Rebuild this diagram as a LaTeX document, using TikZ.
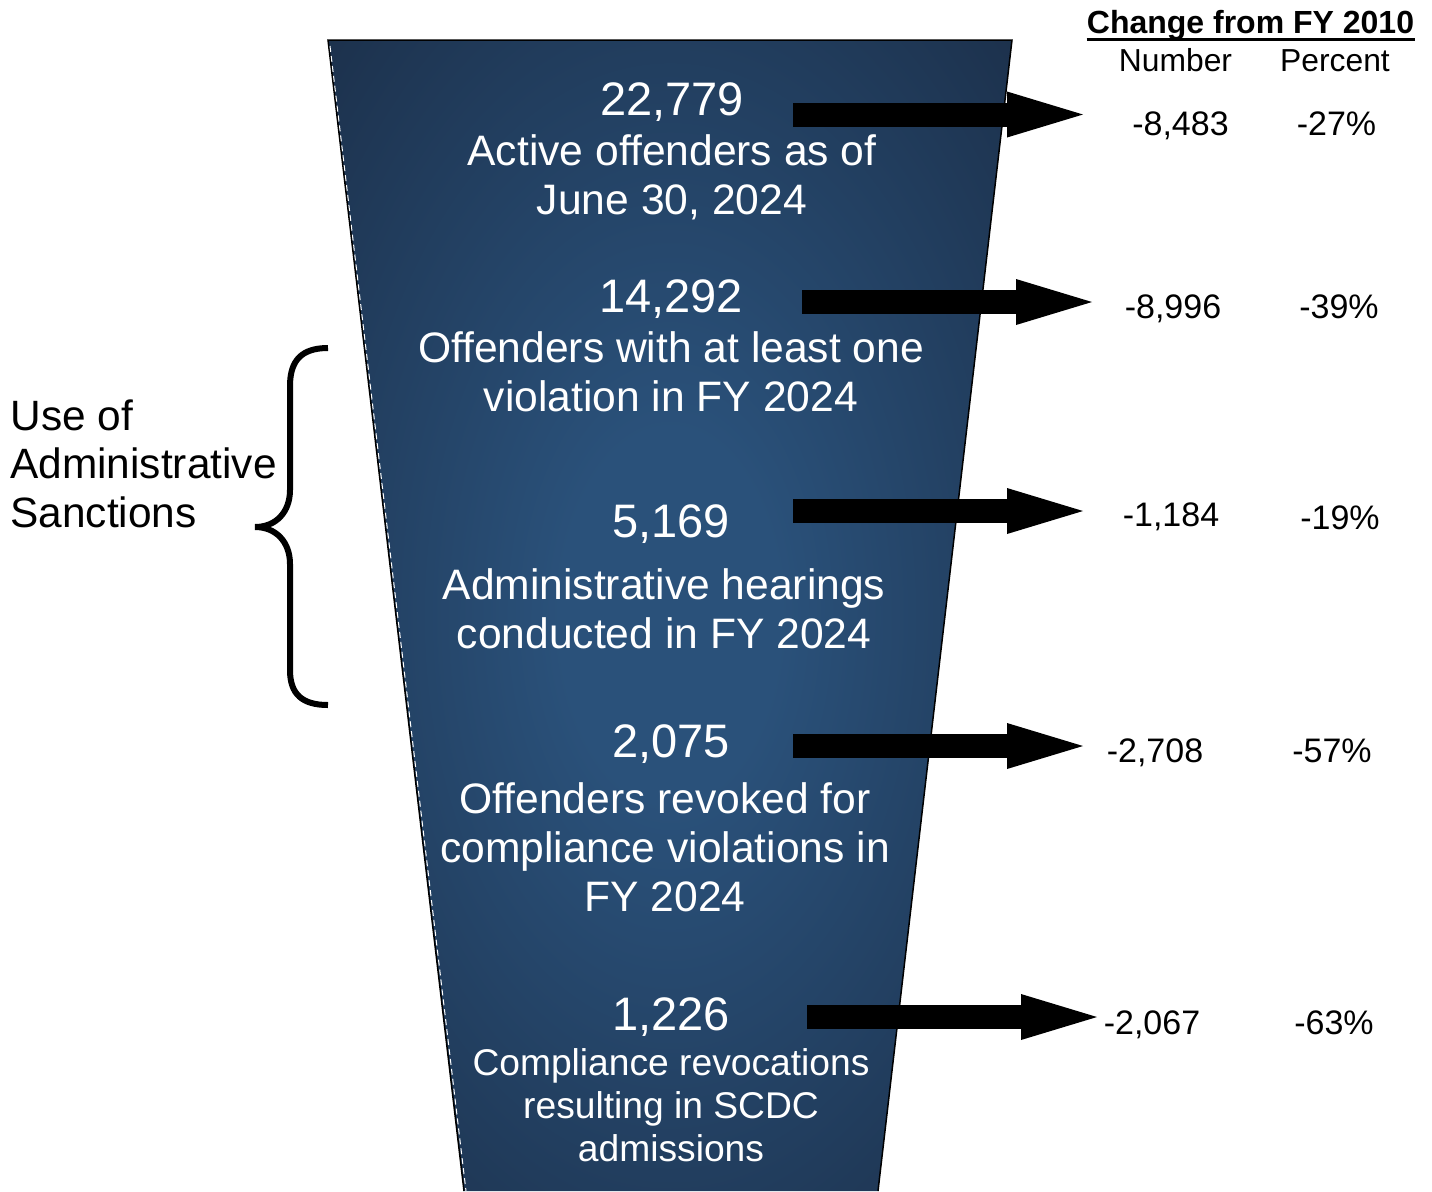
\documentclass[tikz,border=0pt]{standalone}
\usepackage{fontspec}
\setmainfont{Liberation Sans}
\usetikzlibrary{arrows.meta}
\definecolor{funneldark}{HTML}{1A2C45}
\definecolor{funnelglow}{HTML}{2A517A}
\pgfdeclareradialshading{funnelshade}{\pgfpoint{0bp}{0bp}}{color(0bp)=(funnelglow); color(8bp)=(funnelglow); color(40bp)=(funneldark); color(80bp)=(funneldark)}

\begin{document}
\begin{tikzpicture}[x=0.5pt, y=-0.5pt,
  count/.style={anchor=base, inner sep=0pt, text=white, font=\fontsize{23.5}{27}\selectfont},
  stage/.style={anchor=base, inner sep=0pt, text=white, align=center, font=\fontsize{21.3}{24.5}\selectfont},
  change/.style={anchor=base, inner sep=0pt, font=\fontsize{17}{20}\selectfont},
  bigarrow/.style={line width=12pt, -{Triangle[length=38pt, width=23pt, line width=0pt]}}]
  \useasboundingbox (0,0) rectangle (1432,1191);
  % funnel
  \shade[shading=funnelshade] (328,40) -- (1012,40) -- (878,1191) -- (464,1191) -- cycle;
  \draw[line width=0.75pt] (464,1191) -- (328,40) -- (1012,40) -- (878,1191);
  \draw[white, line width=0.5pt, dash pattern=on 3pt off 2pt] (330,46) -- (466,1191);
  % stages (base = last line)
  \node[count] (n1) at (672,115) {22,779};
  \node[stage] (s1) at (672,214) {Active offenders as of\\June 30, 2024};
  \node[count] (n2) at (671,312) {14,292};
  \node[stage] (s2) at (671,411) {Offenders with at least one\\violation in FY 2024};
  \node[count] (n3) at (671,537) {5,169};
  \node[stage] (s3) at (664,648) {Administrative hearings\\conducted in FY 2024};
  \node[count] (n4) at (671,757) {2,075};
  \node[stage] (s4) at (665,911) {Offenders revoked for\\compliance violations in\\FY 2024};
  \node[count] (n5) at (671,1030) {1,226};
  \node[stage, font=\fontsize{18.6}{21.3}\selectfont] (s5) at (671,1161) {Compliance revocations\\resulting in SCDC\\admissions};
  % change from FY 2010
  \node[anchor=base, inner sep=0pt, font=\fontsize{16}{19}\selectfont\bfseries] (head) at (1250.5,33) {Change from FY 2010};
  \draw[line width=1.5pt] ([yshift=-3.2pt]head.base west) -- ([yshift=-3.2pt]head.base east);
  \node[change, font=\fontsize{15.9}{19}\selectfont] (numhead) at (1175.5,71) {Number};
  \node[change, font=\fontsize{15.9}{19}\selectfont] (pcthead) at (1335,71) {Percent};
  \node[change] (d1) at (1180.5,135) {-8,483};
  \node[change] (p1) at (1336.5,135) {-27\%};
  \node[change] (d2) at (1173,318) {-8,996};
  \node[change] (p2) at (1339,318) {-39\%};
  \node[change] (d3) at (1171,526) {-1,184};
  \node[change] (p3) at (1340,529) {-19\%};
  \node[change] (d4) at (1155,762) {-2,708};
  \node[change] (p4) at (1332,762) {-57\%};
  \node[change] (d5) at (1152,1034) {-2,067};
  \node[change] (p5) at (1334,1034) {-63\%};
  % arrows
  \coordinate (a1) at (793,114.5);  \coordinate (b1) at (1083,114.5);
  \coordinate (a2) at (802,302);    \coordinate (b2) at (1092,302);
  \coordinate (a3) at (793,511);    \coordinate (b3) at (1083,511);
  \coordinate (a4) at (793,746);    \coordinate (b4) at (1083,746);
  \coordinate (a5) at (807,1017);   \coordinate (b5) at (1097,1017);
  \draw[bigarrow] (a1) -- (b1);
  \draw[bigarrow] (a2) -- (b2);
  \draw[bigarrow] (a3) -- (b3);
  \draw[bigarrow] (a4) -- (b4);
  \draw[bigarrow] (a5) -- (b5);
  % sanctions brace
  \node[anchor=base west, inner sep=0pt, align=left, font=\fontsize{21.2}{24.25}\selectfont] (sanctions) at (10,527) {Use of\\Administrative\\Sanctions};
  \draw[line width=3pt] (328,348) .. controls (302,348) and (290,360) .. (290,386) -- (290,490)
    .. controls (290,512) and (276,527) .. (255,527) .. controls (276,527) and (290,542) .. (290,564)
    -- (290,670) .. controls (290,694) and (302,705) .. (328,705);
\end{tikzpicture}
\end{document}
